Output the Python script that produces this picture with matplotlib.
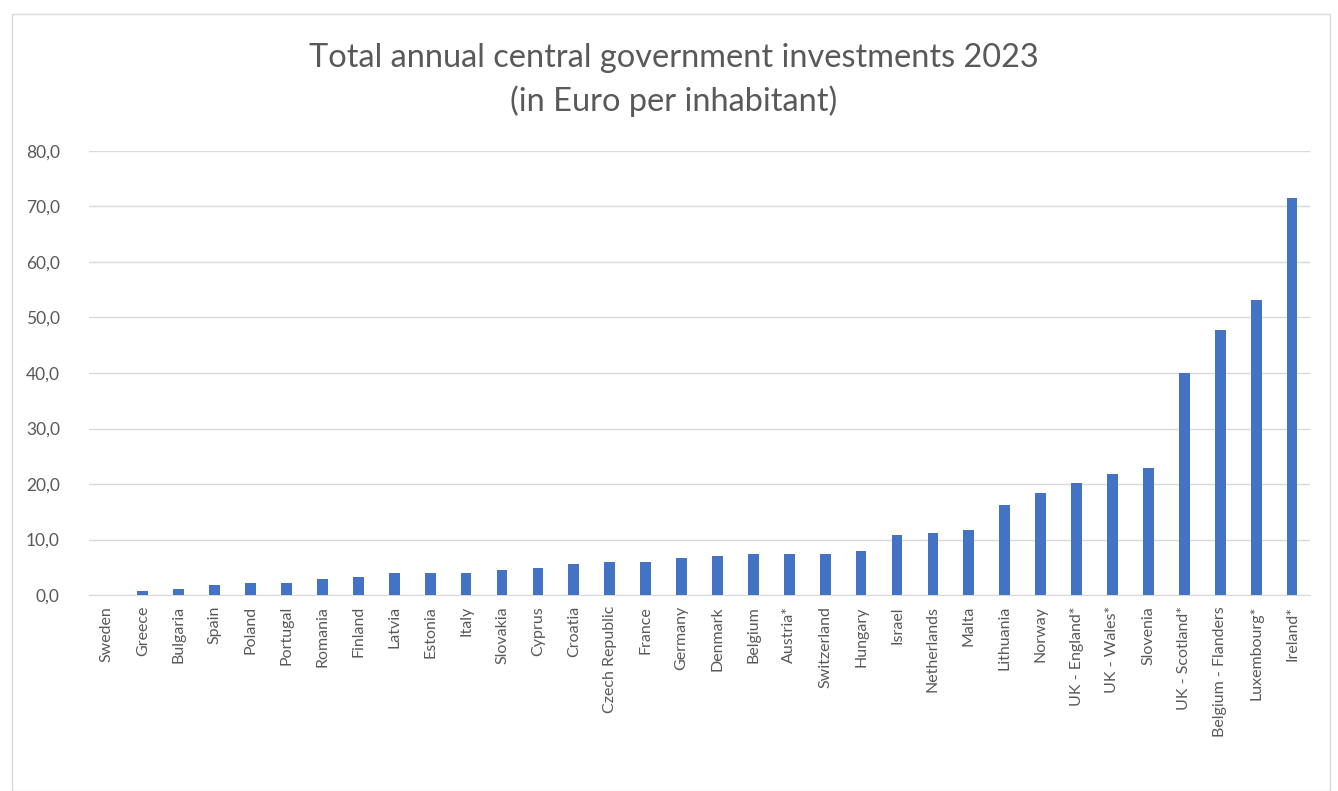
import matplotlib.pyplot as plt
from matplotlib.ticker import FuncFormatter
from matplotlib.patches import Rectangle

countries = ["Sweden", "Greece", "Bulgaria", "Spain", "Poland", "Portugal", "Romania",
             "Finland", "Latvia", "Estonia", "Italy", "Slovakia", "Cyprus", "Croatia",
             "Czech Republic", "France", "Germany", "Denmark", "Belgium", "Austria*",
             "Switzerland", "Hungary", "Israel", "Netherlands", "Malta", "Lithuania",
             "Norway", "UK - England*", "UK - Wales*", "Slovenia", "UK - Scotland*",
             "Belgium - Flanders", "Luxembourg*", "Ireland*"]
values = [0.0, 0.8, 1.1, 1.8, 2.1, 2.1, 2.9, 3.2, 3.9, 3.9, 3.9, 4.5, 4.9, 5.6,
          6.0, 6.0, 6.6, 7.0, 7.3, 7.3, 7.3, 8.0, 10.8, 11.2, 11.8, 16.3, 18.4,
          20.1, 21.8, 22.9, 40.0, 47.8, 53.1, 71.5]

text_col = "#595959"
plt.rcParams["font.family"] = ["Lato", "DejaVu Sans"]

fig = plt.figure(figsize=(13.38, 7.91), dpi=100)
fig.patches.append(Rectangle((12 / 1338, 0), 1318 / 1338, 777 / 791,
                             transform=fig.transFigure, fill=False,
                             edgecolor="#d9d9d9", linewidth=1))
ax = fig.add_axes([89 / 1338, 1 - 595 / 791, 1221 / 1338, 444 / 791])

x = range(len(countries))
ax.bar(x, values, width=0.3, color="#4472c4", zorder=3)

ax.set_ylim(0, 80)
ax.set_yticks(range(0, 81, 10))
ax.yaxis.set_major_formatter(FuncFormatter(lambda v, p: f"{v:.1f}".replace(".", ",")))
ax.set_xlim(-0.5, len(countries) - 0.5)
ax.set_xticks(list(x))
ax.set_xticklabels(countries, rotation=90, fontsize=11.5, color=text_col)
ax.tick_params(axis="y", labelsize=12.5, labelcolor=text_col, length=0, pad=21)
ax.tick_params(axis="x", length=0, pad=8)
ax.grid(axis="y", color="#d9d9d9", linewidth=1, zorder=0)
for s in ["top", "right", "left"]:
    ax.spines[s].set_visible(False)
ax.spines["bottom"].set_color("#d9d9d9")

fig.text(674 / 1338, 1 - 80 / 791, "Total annual central government investments 2023\n(in Euro per inhabitant)",
         ha="center", va="center", fontsize=23.4, color=text_col, linespacing=1.45)

fig.savefig("out.png", dpi=100)
